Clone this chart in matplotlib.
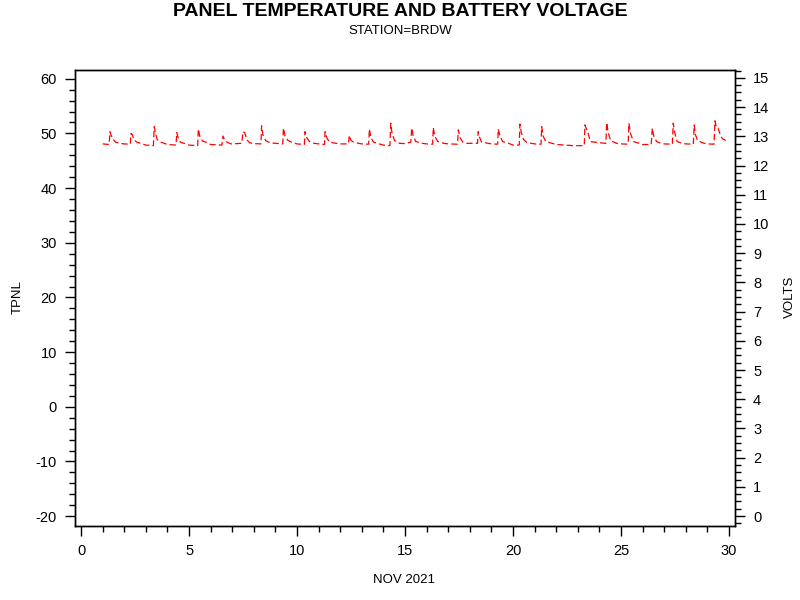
import matplotlib
matplotlib.use("Agg")
import matplotlib.pyplot as plt
from matplotlib.ticker import MultipleLocator

plt.rcParams['font.family'] = ['Liberation Sans', 'DejaVu Sans']
plt.rcParams['axes.unicode_minus'] = False

# Day of month (NOV 2021) and battery voltage readings
days = [
    1.00, 1.30, 1.34, 1.40, 1.48, 1.60, 1.80,
    2.00, 2.28, 2.31, 2.38, 2.45, 2.58, 2.80,
    3.00, 3.35, 3.39, 3.45, 3.52, 3.62, 3.85,
    4.00, 4.40, 4.43, 4.50, 4.60, 4.85,
    5.00, 5.40, 5.43, 5.50, 5.62, 5.85,
    6.00, 6.52, 6.57, 6.62, 6.75, 6.95,
    7.00, 7.44, 7.50, 7.58, 7.68, 7.80,
    8.00, 8.33, 8.36, 8.42, 8.55, 8.75,
    9.00, 9.34, 9.37, 9.45, 9.58, 9.80,
    10.00, 10.34, 10.37, 10.45, 10.58, 10.80,
    11.00, 11.27, 11.30, 11.38, 11.50, 11.80,
    12.00, 12.38, 12.42, 12.50, 12.62, 12.85,
    13.00, 13.32, 13.35, 13.42, 13.55, 13.80,
    14.00, 14.30, 14.34, 14.40, 14.52, 14.75,
    15.00, 15.27, 15.31, 15.38, 15.50, 15.80,
    16.00, 16.28, 16.31, 16.38, 16.52, 16.80,
    17.00, 17.43, 17.47, 17.55, 17.68, 17.85,
    18.00, 18.36, 18.39, 18.46, 18.55, 18.85,
    19.00, 19.29, 19.32, 19.40, 19.52, 19.80,
    20.00, 20.29, 20.32, 20.38, 20.48, 20.62, 20.85,
    21.00, 21.30, 21.33, 21.40, 21.52, 21.80,
    22.00, 22.40, 22.80,
    23.00, 23.30, 23.33, 23.40, 23.48, 23.58, 23.80,
    24.00, 24.30, 24.34, 24.40, 24.52, 24.80,
    25.00, 25.33, 25.37, 25.44, 25.58, 25.85,
    26.00, 26.40, 26.45, 26.52, 26.65, 26.85,
    27.00, 27.38, 27.42, 27.48, 27.60, 27.85,
    28.00, 28.35, 28.39, 28.45, 28.55, 28.85,
    29.00, 29.31, 29.35, 29.42, 29.50, 29.62, 29.72, 29.85,
]
volts = [
    12.74, 12.72, 13.16, 13.02, 12.90, 12.80, 12.76,
    12.74, 12.73, 13.10, 13.05, 12.88, 12.80, 12.75,
    12.70, 12.68, 13.33, 13.10, 12.90, 12.82, 12.76,
    12.72, 12.70, 13.13, 12.95, 12.80, 12.74,
    12.70, 12.68, 13.25, 13.00, 12.84, 12.78,
    12.72, 12.70, 13.01, 12.92, 12.80, 12.74,
    12.74, 12.76, 13.16, 13.12, 12.88, 12.78,
    12.75, 12.74, 13.36, 13.05, 12.85, 12.78,
    12.76, 12.74, 13.28, 13.00, 12.86, 12.78,
    12.74, 12.72, 13.16, 12.95, 12.82, 12.76,
    12.74, 12.72, 13.16, 12.95, 12.80, 12.76,
    12.74, 12.74, 13.03, 12.86, 12.80, 12.76,
    12.74, 12.73, 13.25, 12.95, 12.80, 12.74,
    12.70, 12.68, 13.45, 13.10, 12.85, 12.76,
    12.75, 12.80, 13.28, 13.02, 12.82, 12.76,
    12.74, 12.73, 13.30, 13.00, 12.82, 12.76,
    12.74, 12.73, 13.22, 12.95, 12.80, 12.76,
    12.76, 12.76, 13.16, 12.95, 12.80, 12.76,
    12.74, 12.73, 13.25, 13.00, 12.82, 12.76,
    12.70, 12.70, 13.42, 13.15, 12.90, 12.80, 12.76,
    12.74, 12.73, 13.33, 13.00, 12.82, 12.76,
    12.72, 12.70, 12.68,
    12.68, 12.68, 13.39, 13.25, 13.10, 12.82, 12.80,
    12.78, 12.76, 13.47, 13.15, 12.85, 12.76,
    12.74, 12.73, 13.45, 13.10, 12.82, 12.76,
    12.72, 12.72, 13.28, 13.00, 12.82, 12.76,
    12.74, 12.73, 13.45, 13.15, 12.82, 12.76,
    12.74, 12.73, 13.39, 13.05, 12.85, 12.76,
    12.74, 12.73, 13.53, 13.30, 13.28, 13.00, 12.90, 12.86,
]

x_ticks = [0, 5, 10, 15, 20, 25, 30]
tpnl_ticks = [-20, -10, 0, 10, 20, 30, 40, 50, 60]
volt_ticks = list(range(0, 16))

fig = plt.figure(figsize=(8, 6), dpi=100)
ax = fig.add_axes([75/800, 1 - 526/600, 660/800, 456/600])
ax2 = ax.twinx()

ax2.plot(days, volts, color='red', lw=0.9, linestyle=(0, (5, 2.5)))

ax.set_xlim(-0.28, 30.28)
ax.set_ylim(-21.8, 61.6)
ax2.set_ylim(-0.34, 15.27)

ax.set_xticks(x_ticks)
ax.xaxis.set_minor_locator(MultipleLocator(1))
ax.set_yticks(tpnl_ticks)
ax.yaxis.set_minor_locator(MultipleLocator(2))
ax2.set_yticks(volt_ticks)
ax2.yaxis.set_minor_locator(MultipleLocator(0.25))

for a in (ax, ax2):
    a.tick_params(which='major', direction='out', length=7, width=1, labelsize=10.5, pad=6, colors='black')
    a.tick_params(which='minor', direction='out', length=4, width=1)
    for s in a.spines.values():
        s.set_linewidth(1)

fig.text(0.5, 1 - 11/600, 'PANEL TEMPERATURE AND BATTERY VOLTAGE', ha='center', va='center',
         fontsize=14, fontweight='bold')
fig.text(0.5, 1 - 31/600, 'STATION=BRDW', ha='center', va='center', fontsize=9.5)
fig.text(18/800, 1 - 297/600, 'TPNL', rotation=90, ha='center', va='center', fontsize=9.5)
fig.text(790/800, 1 - 297/600, 'VOLTS', rotation=90, ha='center', va='center', fontsize=9.5)
fig.text(404/800, 1 - 580/600, 'NOV 2021', ha='center', va='center', fontsize=9.5)

fig.savefig('out.png', dpi=100)
